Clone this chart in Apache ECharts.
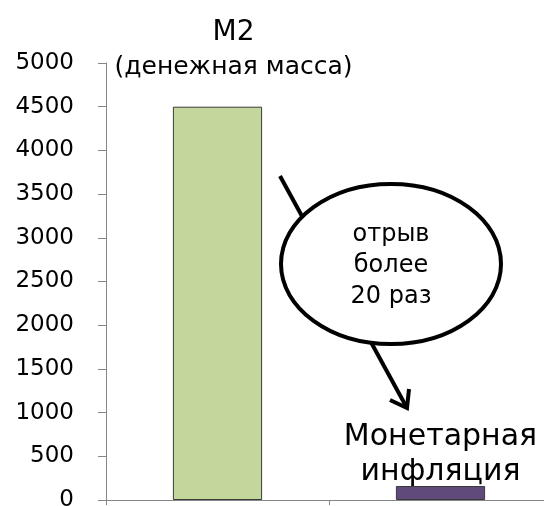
<!DOCTYPE html>
<html>
<head>
<meta charset="utf-8">
<script src="https://cdn.jsdelivr.net/npm/echarts@6/dist/echarts.min.js"></script>
<style>
  html, body { margin: 0; padding: 0; background: #fff; }
  #chart { width: 544px; height: 506px; }
</style>
</head>
<body>
<div id="chart"></div>
<script>
// данные
const categories = ["M2", "Монетарная инфляция"];
const values = [4500, 160];
const labelTop = ["M2", "Монетарная"];
const labelBottom = ["(денежная масса)", "инфляция"];
const yTicks = [0, 500, 1000, 1500, 2000, 2500, 3000, 3500, 4000, 4500, 5000];
const bubbleLines = ["отрыв", "более", "20 раз"];

const barColors = ["#c3d69b", "#604a7b"];
const font = "DejaVu Sans";

const chart = echarts.init(document.getElementById("chart"));

chart.setOption({
  animation: false,
  grid: { left: 106, top: 63, width: 446, bottom: 6, outerBoundsMode: "none", containLabel: false },
  xAxis: {
    type: "category",
    data: categories,
    axisLine: { lineStyle: { color: "#868686", width: 1 } },
    axisTick: { show: true, length: 5, lineStyle: { color: "#868686" } },
    axisLabel: { show: false },
  },
  yAxis: {
    type: "value",
    min: yTicks[0],
    max: yTicks[yTicks.length - 1],
    interval: yTicks[1] - yTicks[0],
    splitLine: { show: false },
    axisLine: { show: true, lineStyle: { color: "#868686", width: 1 } },
    axisTick: { show: true, length: 8, lineStyle: { color: "#868686" } },
    axisLabel: { color: "#000", fontSize: 23, fontFamily: font, margin: 32,
      formatter: (v) => String(v) },
  },
  series: [
    {
      type: "bar",
      barWidth: "40%",
      data: values.map((v, i) => ({
        value: v,
        itemStyle: { color: barColors[i], borderColor: "#3a3a3a", borderWidth: 1 },
        label: {
          show: true,
          position: "top",
          distance: i === 0 ? 24 : -4,
          offset: i === 0 ? [16, 0] : [0, 0],
          formatter: i === 0 ? "{t|" + labelTop[i] + "}\n{s|" + labelBottom[i] + "}"
                             : "{m|" + labelTop[i] + "}\n{m|" + labelBottom[i] + "}",
          rich: {
            t: { fontSize: 28, fontFamily: font, color: "#000", lineHeight: 40 },
            s: { fontSize: 25, fontFamily: font, color: "#000", lineHeight: 30 },
            m: { fontSize: 30, fontFamily: font, color: "#000", lineHeight: 35 },
          },
        },
      })),
    },
  ],
  graphic: [
    // стрелка
    { type: "line", z: 10, shape: { x1: 280, y1: 176, x2: 407, y2: 408 },
      style: { stroke: "#000", lineWidth: 4 } },
    { type: "polyline", z: 10, shape: { points: [[390, 400], [407, 408], [409, 389]] },
      style: { stroke: "#000", lineWidth: 4, fill: null } },
    // выноска
    { type: "ellipse", z: 11, shape: { cx: 391, cy: 264, rx: 110, ry: 80 },
      style: { fill: "#fff", stroke: "#000", lineWidth: 4 } },
    { type: "text", z: 12, style: {
        text: bubbleLines.join("\n"), x: 391, y: 266, align: "center", verticalAlign: "middle",
        font: "24px 'DejaVu Sans'", fill: "#000", lineHeight: 31 } },
  ],
});
</script>
</body>
</html>
